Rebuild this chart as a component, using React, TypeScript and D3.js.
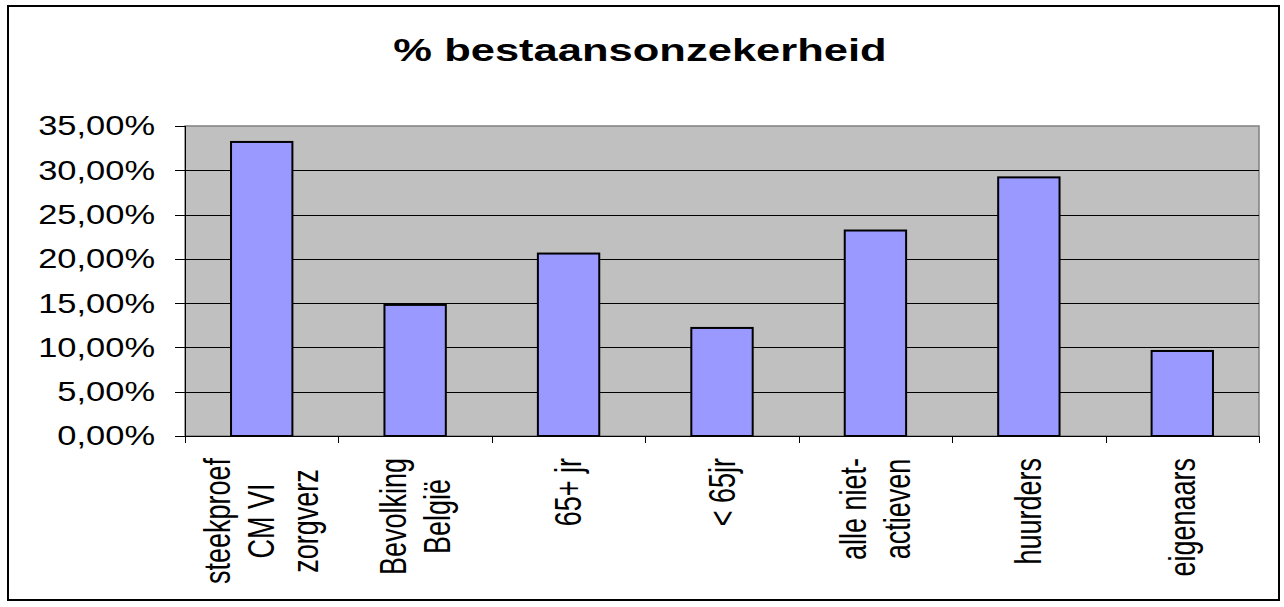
import React, { useEffect, useRef } from 'react';
import * as d3 from 'd3';

const title = '% bestaansonzekerheid';
const categories = [
  ['steekproef', 'CM VI', 'zorgverz'],
  ['Bevolking', 'België'],
  ['65+ jr'],
  ['< 65jr'],
  ['alle niet-', 'actieven'],
  ['huurders'],
  ['eigenaars'],
];
const values = [33.2, 14.8, 20.6, 12.2, 23.2, 29.2, 9.6];
const yTicks = [0, 5, 10, 15, 20, 25, 30, 35];

const W = 1284;
const H = 607;
const FONT = '"Liberation Sans", Arial, sans-serif';

const App = () => {
  const ref = useRef<SVGSVGElement>(null);

  useEffect(() => {
    const svg = d3.select(ref.current);
    svg.selectAll('*').remove();

    const plot = { left: 185, right: 1259, top: 126, bottom: 436 };

    // outer frame
    svg.append('rect')
      .attr('x', 8).attr('y', 6)
      .attr('width', 1271).attr('height', 594)
      .attr('fill', '#fff').attr('stroke', '#000').attr('stroke-width', 2);

    // title (stretched horizontally like the original)
    svg.append('text')
      .attr('transform', `translate(640,61) scale(1.36,1)`)
      .attr('text-anchor', 'middle')
      .attr('font-family', FONT)
      .attr('font-weight', 'bold')
      .attr('font-size', 32)
      .text(title);

    const x = d3.scaleBand<number>()
      .domain(d3.range(categories.length))
      .range([plot.left, plot.right]);
    const y = d3.scaleLinear().domain([0, 35]).range([plot.bottom, plot.top]);

    // plot background
    svg.append('rect')
      .attr('x', plot.left).attr('y', plot.top)
      .attr('width', plot.right - plot.left).attr('height', plot.bottom - plot.top)
      .attr('fill', '#c0c0c0').attr('stroke', '#808080').attr('stroke-width', 1.5);

    // gridlines
    svg.append('g').selectAll('line')
      .data(yTicks.filter(t => t > 0 && t < 35))
      .join('line')
      .attr('x1', plot.left).attr('x2', plot.right)
      .attr('y1', d => Math.round(y(d)) + 0.5).attr('y2', d => Math.round(y(d)) + 0.5)
      .attr('stroke', '#000').attr('stroke-width', 1);

    // bars
    const bw = x.bandwidth() * 0.4;
    svg.append('g').selectAll('rect')
      .data(values)
      .join('rect')
      .attr('x', (_, i) => x(i)! + x.bandwidth() / 2 - bw / 2)
      .attr('y', d => y(d))
      .attr('width', bw)
      .attr('height', d => plot.bottom - y(d))
      .attr('fill', '#9999ff').attr('stroke', '#000').attr('stroke-width', 2);

    // y axis
    const yAxis = svg.append('g');
    yAxis.append('line')
      .attr('x1', plot.left + 0.5).attr('x2', plot.left + 0.5)
      .attr('y1', plot.top).attr('y2', plot.bottom)
      .attr('stroke', '#000');
    yAxis.selectAll('line.tick')
      .data(yTicks)
      .join('line')
      .attr('class', 'tick')
      .attr('x1', plot.left - 10).attr('x2', plot.left)
      .attr('y1', d => Math.round(y(d)) + 0.5).attr('y2', d => Math.round(y(d)) + 0.5)
      .attr('stroke', '#000');
    yAxis.selectAll('text')
      .data(yTicks)
      .join('text')
      .attr('transform', d => `translate(155,${y(d)}) scale(1.23,1)`)
      .attr('text-anchor', 'end')
      .attr('dominant-baseline', 'central')
      .attr('font-family', FONT)
      .attr('font-size', 28)
      .text(d => d.toFixed(2).replace('.', ',') + '%');

    // x axis
    const xAxis = svg.append('g');
    xAxis.append('line')
      .attr('x1', plot.left).attr('x2', plot.right)
      .attr('y1', plot.bottom + 0.5).attr('y2', plot.bottom + 0.5)
      .attr('stroke', '#000');
    xAxis.selectAll('line.tick')
      .data(d3.range(categories.length + 1))
      .join('line')
      .attr('class', 'tick')
      .attr('x1', i => Math.round(plot.left + i * x.step()) + 0.5)
      .attr('x2', i => Math.round(plot.left + i * x.step()) + 0.5)
      .attr('y1', plot.bottom).attr('y2', plot.bottom + 7)
      .attr('stroke', '#000');

    // rotated category labels, lines centered on the longest one
    const sx = 1.35;
    const pitch = 44 / sx;
    const labelTop = 458;
    categories.forEach((lines, i) => {
      const g = xAxis.append('g')
        .attr('transform', `translate(${x(i)! + x.bandwidth() / 2},${labelTop}) scale(${sx},1) rotate(-90)`);
      const texts = g.selectAll('text')
        .data(lines)
        .join('text')
        .attr('y', (_, j) => (j - (lines.length - 1) / 2) * pitch)
        .attr('text-anchor', 'middle')
        .attr('dominant-baseline', 'central')
        .attr('font-family', FONT)
        .attr('font-size', 27)
        .text(d => d);
      let maxLen = 0;
      texts.each(function () {
        maxLen = Math.max(maxLen, (this as SVGTextElement).getComputedTextLength());
      });
      texts.attr('x', -maxLen / 2);
    });
  }, []);

  return (
    <svg
      ref={ref}
      width={W}
      height={H}
      style={{ position: 'absolute', left: 0, top: 0, background: '#fff' }}
    />
  );
};

export default App;
